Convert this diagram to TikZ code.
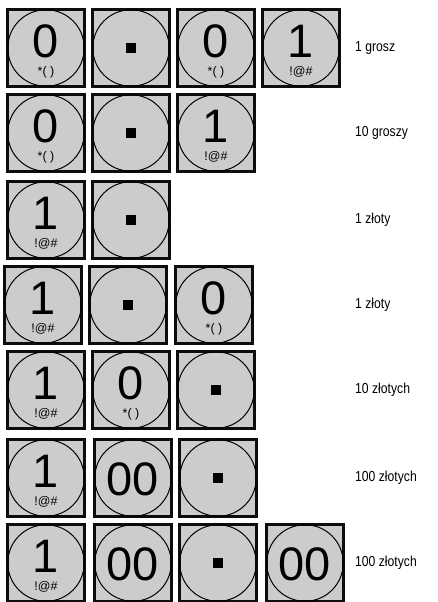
\documentclass[tikz,border=0pt]{standalone}
\usepackage{fontspec}
\setmainfont{Liberation Sans}
\newfontfamily\narrowfont[FakeStretch=0.84]{Liberation Sans}
\definecolor{keygray}{HTML}{CCCCCC}
\definecolor{keyedge}{HTML}{0D0D0D}
\tikzset{
 keybox/.style={draw=keyedge, line width=2.8pt, fill=keygray, minimum size=77.5pt, inner sep=0pt},
 keyring/.style={draw, circle, line width=1pt, minimum size=76.5pt, inner sep=0pt},
 digit/.style={inner sep=0pt, font=\fontsize{47}{47}\selectfont},
 subtxt/.style={inner sep=0pt, font=\fontsize{12.5}{12.5}\selectfont},
 dotmark/.style={fill=black, minimum size=10pt, inner sep=0pt},
 amount/.style={anchor=west, inner sep=0pt, font=\narrowfont\fontsize{14.5}{14.5}\selectfont}
}
\begin{document}
\begin{tikzpicture}[x=1pt, y=-1pt]
 \useasboundingbox (0,0) rectangle (437,602);

 % define a key with {(x,y)}{digit}{small text}{name}
 \newcommand{\KeyCap}[4]{
  \begin{scope}[shift={#1}]
   \node [keybox] (#4) at (0,0) {};
   \node [keyring] (#4c) at (0,0) {};
   \node [digit] (#4d) at (0,-7) {#2};
   \node [subtxt] (#4s) at (0,24) {#3};
  \end{scope}
  }
 % the decimal point key with {(x,y)}{name}
 \newcommand{\DotKey}[2]{
  \begin{scope}[shift={#1}]
   \node [keybox] (#2) at (0,0) {};
   \node [keyring] (#2c) at (0,0) {};
   \node [dotmark] (#2d) at (0,0) {};
  \end{scope}
  }
 % the double zero key with {(x,y)}{name}
 \newcommand{\ZeroKey}[2]{
  \begin{scope}[shift={#1}]
   \node [keybox] (#2) at (0,0) {};
   \node [keyring] (#2c) at (0,0) {};
   \node [digit] (#2d) at (0,1) {00};
  \end{scope}
  }

 % 1 grosz
 \KeyCap{(46,48)}{0}{*( )}{a1}
 \DotKey{(131,48)}{a2}
 \KeyCap{(216,48)}{0}{*( )}{a3}
 \KeyCap{(301,48)}{1}{!@\#}{a4}
 \node [amount] (ta) at (355,48) {1 grosz};

 % 10 groszy
 \KeyCap{(46,133)}{0}{*( )}{b1}
 \DotKey{(131,133)}{b2}
 \KeyCap{(216,133)}{1}{!@\#}{b3}
 \node [amount] (tb) at (355,133) {10 groszy};

 % 1 zloty
 \KeyCap{(46,220)}{1}{!@\#}{c1}
 \DotKey{(131,220)}{c2}
 \node [amount] (tc) at (355,220) {1 złoty};

 \KeyCap{(43,305)}{1}{!@\#}{d1}
 \DotKey{(128,305)}{d2}
 \KeyCap{(214,305)}{0}{*( )}{d3}
 \node [amount] (td) at (355,305) {1 złoty};

 % 10 zlotych
 \KeyCap{(46,390)}{1}{!@\#}{e1}
 \KeyCap{(131,390)}{0}{*( )}{e2}
 \DotKey{(216,390)}{e3}
 \node [amount] (te) at (355,390) {10 złotych};

 % 100 zlotych
 \KeyCap{(46,478)}{1}{!@\#}{f1}
 \ZeroKey{(133,478)}{f2}
 \DotKey{(218,478)}{f3}
 \node [amount] (tf) at (355,478) {100 złotych};

 \KeyCap{(46,563)}{1}{!@\#}{g1}
 \ZeroKey{(133,563)}{g2}
 \DotKey{(218,563)}{g3}
 \ZeroKey{(305,563)}{g4}
 \node [amount] (tg) at (355,563) {100 złotych};
\end{tikzpicture}
\end{document}
